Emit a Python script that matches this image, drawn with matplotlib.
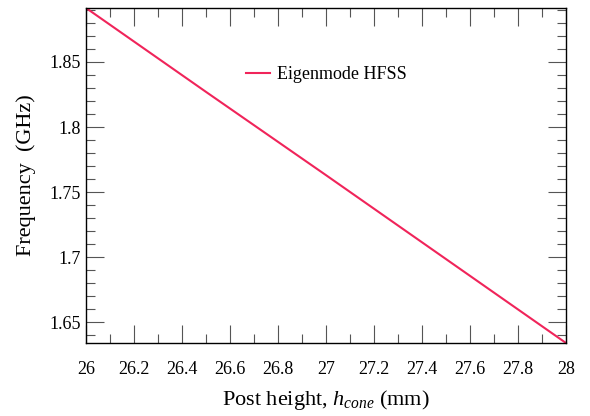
import matplotlib
matplotlib.use("Agg")
import matplotlib.pyplot as plt
from matplotlib.ticker import MultipleLocator

# post height (mm) and eigenmode frequency (GHz)
post_height = [26.0, 26.5, 27.0, 27.5, 28.0]
frequency = [1.8915, 1.827, 1.763, 1.6985, 1.634]

x_ticks = [26, 26.2, 26.4, 26.6, 26.8, 27, 27.2, 27.4, 27.6, 27.8, 28]
x_tick_labels = ["26", "26.2", "26.4", "26.6", "26.8", "27", "27.2", "27.4", "27.6", "27.8", "28"]
y_ticks = [1.65, 1.7, 1.75, 1.8, 1.85]
y_tick_labels = ["1.65", "1.7", "1.75", "1.8", "1.85"]

plt.rcParams['font.family'] = ['Liberation Serif', 'DejaVu Serif']
plt.rcParams['mathtext.fontset'] = 'custom'
plt.rcParams['mathtext.it'] = 'Liberation Serif:italic'
plt.rcParams['mathtext.rm'] = 'Liberation Serif'

fig = plt.figure(figsize=(5.9, 4.16), dpi=100)
ax = fig.add_axes([0.1458, 0.1755, 0.8135, 0.8053])

ax.plot(post_height, frequency, color='#f0245a', lw=1.5, label='Eigenmode HFSS')

ax.set_xlim(26, 28)
ax.set_ylim(1.634, 1.8915)
ax.set_xticks(x_ticks)
ax.set_xticklabels(x_tick_labels)
ax.set_yticks(y_ticks)
ax.set_yticklabels(y_tick_labels)
ax.xaxis.set_minor_locator(MultipleLocator(0.1))
ax.yaxis.set_minor_locator(MultipleLocator(0.01))

ax.tick_params(which='both', direction='in', top=True, right=True, color='#555555', width=0.8)
ax.tick_params(which='major', length=13, labelsize=13)
ax.tick_params(axis='x', which='major', pad=13)
ax.tick_params(axis='y', which='major', pad=4)
ax.tick_params(which='minor', length=6.5)
for s in ax.spines.values():
    s.set_linewidth(1)

ax.set_xlabel('Post height, $h_{cone}$ (mm)', fontsize=16, labelpad=7)
ax.set_ylabel('Frequency  (GHz)', fontsize=16, labelpad=9)

ax.legend(loc='upper left', bbox_to_anchor=(0.30, 0.875), frameon=False, fontsize=13,
          handlelength=1.3, handletextpad=0.4)

fig.savefig('out.png', dpi=100)
